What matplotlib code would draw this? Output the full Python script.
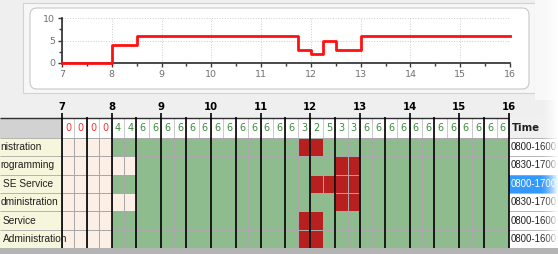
import numpy as np
import matplotlib
matplotlib.use("Agg")
import matplotlib.pyplot as plt
import matplotlib.patches as patches
from matplotlib.colors import ListedColormap

# schedule data
names = ["nistration", "rogramming", "SE Service", "dministration", "Service", "Administration"]
shift_times = ["0800-1600", "0830-1700", "0800-1700", "0830-1700", "0800-1600", "0800-1600"]
shift_start = [8.0, 8.5, 8.0, 8.5, 8.0, 8.0]
break_start = [11.75, 12.5, 12.0, 12.5, 11.75, 11.75]
break_end = [12.25, 13.0, 13.0, 13.0, 12.25, 12.25]
selected_row = 2

hours = [7, 8, 9, 10, 11, 12, 13, 14, 15, 16]
# staff on duty per quarter hour (header row / top chart)
staff_counts = [0, 0, 0, 0, 4, 4, 6, 6, 6, 6, 6, 6, 6, 6, 6, 6,
                6, 6, 6, 3, 2, 5, 3, 3, 6, 6, 6, 6, 6, 6, 6, 6,
                6, 6, 6, 6]

W, H = 558, 254
fig = plt.figure(figsize=(W / 100, H / 100), dpi=100, facecolor="#efefef")

# background panels in pixel coords
bg = fig.add_axes([0, 0, 1, 1])
bg.set_xlim(0, W)
bg.set_ylim(H, 0)
bg.axis("off")
bg.add_patch(patches.Rectangle((23, 3), 512, 90, fc="#f7f7f7", ec="#d2d2d2", lw=0.8))
bg.add_patch(patches.FancyBboxPatch((30, 8), 499, 81, boxstyle="round,pad=0,rounding_size=7",
                                    fc="white", ec="#c8c8c8", lw=0.8))
bg.add_patch(patches.Rectangle((535, 0), 23, 100, fc="#f8f8f8", ec="none"))
bg.add_patch(patches.Rectangle((0, 248), W, 6, fc="#b4b4b4", ec="none"))

# top chart
ax_top = fig.add_axes([62 / W, (H - 63) / H, 448 / W, 45 / H])
ax_top.set_facecolor("none")
t = [7 + 0.25 * i for i in range(len(staff_counts))] + [16]
ax_top.step(t, staff_counts + [staff_counts[-1]], where="post", color="#ff1010", lw=2.0,
            clip_on=False, zorder=5)
ax_top.set_xlim(7, 16)
ax_top.set_ylim(0, 10)
ax_top.set_xticks(hours)
ax_top.set_xticks(np.arange(7.5, 16, 1), minor=True)
ax_top.set_yticks([0, 5, 10])
ax_top.set_yticks([2.5, 7.5], minor=True)
ax_top.grid(True, which="major", color="#cccccc", ls=":", lw=0.7)
for s in ["top", "right"]:
    ax_top.spines[s].set_visible(False)
for s in ["left", "bottom"]:
    ax_top.spines[s].set_color("#3a3a3a")
    ax_top.spines[s].set_linewidth(1.3)
ax_top.tick_params(which="both", colors="#3a3a3a", labelcolor="#707070", labelsize=6.8,
                   length=3, width=1, pad=2)
ax_top.tick_params(which="minor", length=2)

# schedule grid
pxh = (509 - 62) / 9.0
pxr = (248 - 138) / 6.0
ax = fig.add_axes([0, (H - 248) / H, 1, (248 - 100) / H])
ax.set_xlim(7 - 62 / pxh, 7 + (W - 62) / pxh)
ax.set_ylim(6, -(138 - 100) / pxr)
ax.axis("off")
x0, x1 = ax.get_xlim()
hdr = -(138 - 118) / pxr

edges_x = np.arange(7, 16.001, 0.25)
centers = edges_x[:-1] + 0.125
status = np.zeros((len(names), len(centers)))
for r in range(len(names)):
    on = centers >= shift_start[r]
    brk = (centers >= break_start[r]) & (centers < break_end[r])
    status[r, on] = 1
    status[r, on & brk] = 2
cmap = ListedColormap(["#fbefe6", "#8fbc8f", "#b81f1f"])
ax.pcolormesh(edges_x, np.arange(len(names) + 1), status, cmap=cmap, vmin=0, vmax=2,
              edgecolors="#a8a8a8", linewidth=0.6)

# header row with staff counts
ax.add_patch(patches.Rectangle((7, hdr), 9, -hdr, fc="white", ec="none"))
ax.vlines(edges_x, hdr, 0, color="#c0c0c0", lw=0.6)
for c, n in zip(centers, staff_counts):
    ax.text(c, hdr / 2, str(n), ha="center", va="center", fontsize=7,
            color="#ff3030" if n == 0 else "#3c8c3c")

# name column
narrow = ["Liberation Sans Narrow", "Liberation Sans"]
ax.add_patch(patches.Rectangle((x0, hdr), 7 - x0, -hdr, fc="#d2d2d2", ec="none"))
ax.add_patch(patches.Rectangle((x0, 0), 7 - x0, len(names), fc="#f6f6dc", ec="none"))
for r, name in enumerate(names):
    xs = x0 + (0.5 if r in (0, 1, 3) else 3) / pxh
    ax.text(xs, r + 0.5, name, ha="left", va="center", fontsize=7.3,
            family=narrow, color="#202020")

# time column
ax.add_patch(patches.Rectangle((16, hdr), x1 - 16, -hdr, fc="#f0f0f0", ec="none"))
ax.text(16 + 3 / pxh, hdr / 2, "Time", ha="left", va="center", fontsize=7.3,
        fontweight="bold", color="#202020")
for r, tm in enumerate(shift_times):
    sel = r == selected_row
    ax.add_patch(patches.Rectangle((16, r), x1 - 16, 1, fc="#3399ff" if sel else "white",
                                   ec="none"))
    ax.text(16 + 2 / pxh, r + 0.5, tm, ha="left", va="center", fontsize=6.9,
            family=narrow, color="white" if sel else "#202020")

# row lines, borders, hour and half hour lines
ax.hlines(np.arange(1, len(names)), x0, x1, color="#a8a8a8", lw=0.6)
ax.hlines(0, x0, x1, color="#a8a8a8", lw=0.6)
ax.hlines(hdr, x0, 16, color="#303030", lw=1.0)
ax.vlines(hours, -(138 - 113) / pxr, 6, color="black", lw=1.2)
ax.vlines(np.arange(7.5, 16, 1), -(138 - 117) / pxr, 6, color="black", lw=1.2)
for h in hours:
    ax.text(h, -(138 - 107) / pxr, str(h), ha="center", va="center", fontsize=7.3,
            fontweight="bold", color="black")

# fade at the right edge, drawn over everything
ov = fig.add_axes([0, 0, 1, 1])
ov.set_facecolor("none")
ov.axis("off")
fade = np.linspace(0, 1, 64).reshape(1, -1)
rgba = np.ones((1, 64, 4))
rgba[..., 3] = fade ** 1.5
ov.imshow(rgba, extent=(540, W, H - 6, 0), aspect="auto")
ov.set_xlim(0, W)
ov.set_ylim(H, 0)

fig.savefig("out.png", dpi=100, facecolor=fig.get_facecolor())
